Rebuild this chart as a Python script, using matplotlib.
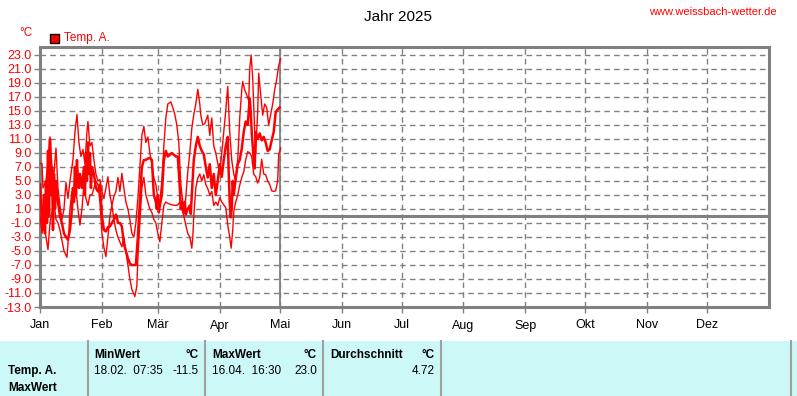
import matplotlib.pyplot as plt
from matplotlib.patches import Rectangle

# Temp. A. - daily highs, means and lows (day of year from 1 Jan)
max_days = [0, 1, 1.5, 3, 4, 5, 6, 7, 8, 9, 10, 11, 12, 13, 14, 15, 16.5, 17.5, 18.5, 19.5,
            20.5, 21.5, 22.5, 23.5, 24, 25, 26, 27, 28, 29, 30, 31, 32, 33, 34, 35, 36, 37, 38, 39,
            40, 41, 42, 43, 44, 45, 46, 47, 48, 49, 50, 51, 52, 53, 54, 55, 56, 57, 58, 59,
            60, 61, 62, 63, 64, 65.5, 66.5, 67.5, 68.5, 69.5, 70.5, 71.5, 72.5, 73.5, 74, 75, 76, 77, 78, 79,
            80, 80.5, 81.5, 82.5, 84, 85, 86, 87, 88, 89, 90, 91, 92, 93, 94, 95, 96, 97, 98, 99,
            100, 101, 101.5, 102.5, 103.5, 104.5, 105, 105.7, 106.5, 107.5, 108, 109, 109.5, 110.5,
            111.5, 112.5, 113.5, 114.5, 115.5, 116.5, 117.5, 118.5, 119.5, 120.5]
max_vals = [7.5, 7.5, 4.0, 5, 8, 11.3, 7, 6, 9.7, 4, 1.5, -0.5, 1, 4.8, 2.5, 5, 8, 12, 14.5, 10.5,
            8.5, 9.5, 7.5, 12, 13.5, 10, 10.5, 8, 6, 5, 5.2, 3.5, 2.5, 4, 5.6, 3, 1.5, 2.8, 3.5, 5.5,
            3.5, 6.1, 4, 2, 1, -0.5, -2.5, -3, -1, 2.5, 7, 11.5, 12.8, 10.5, 11.3, 9, 7.5, 5.5, 4.5, 2.5,
            2, 5, 10, 14, 16, 16.3, 15.5, 14.5, 13, 10.5, 4.5, 2, 1, 4.5, 6.3, 9, 12.5, 14.5, 16, 18.1,
            16, 14.4, 13, 13.2, 14.4, 11.5, 14, 10, 9, 7.5, 6, 9, 12, 15, 18.5, 12, 8, 6, 5, 8,
            14, 18, 19.2, 18, 17.3, 16.5, 21, 23.0, 19.7, 12, 9, 15, 20.4, 17.3,
            14.4, 16, 15.5, 13, 14.5, 16, 18, 19.5, 21.5, 22.5]

mean_days = [0, 0.5, 1, 1.5, 2, 2.5, 3, 3.5, 4, 4.5, 5, 5.5, 6, 6.5, 7, 7.5, 8, 9, 10, 11,
             12, 13, 14, 15, 16, 16.5, 17, 17.5, 18, 18.5, 19, 19.5, 20, 21, 22, 22.5, 23, 23.5, 24, 24.5,
             25, 25.5, 26, 27, 28, 29, 30, 31, 32, 33, 34, 35, 36, 37, 38, 38.5, 39, 40, 41, 42,
             43, 44, 45, 46, 47, 48, 49, 50, 51, 52, 53, 54, 55, 56, 57, 58, 58.5, 59, 59.5, 60,
             61, 62, 63, 64, 66, 68, 69, 70, 70.5, 71, 72, 72.5, 73, 74, 75, 75.5, 76, 77, 78, 79,
             80, 81, 82, 83, 84, 85, 86, 87, 88, 89, 90, 91, 92, 93, 94, 94.5, 95, 95.5, 96, 96.5,
             97, 98, 99, 100, 101, 102, 103, 104, 105, 105.5, 106, 107, 107.5, 108, 109, 110, 111, 112,
             113, 114, 115, 116, 117, 118, 119, 120]
mean_vals = [4.5, 2, -1, -2, 3, -2.5, 5, -1, 9.3, 0, 11, 3, 7, -2, 6, 1, 5, 2, 0, -1,
             -2.5, -3, -3.4, -2, 1, 4, 2, 7, 3, 8, 5, 4, 6, 4, 7, 3, 9, 5, 10.5, 6,
             9, 4, 7, 6, 4, 3.5, 4.5, 0, -2, -2.2, -1.6, -1.5, -1.0, -0.5, 0.2, -0.2, -1, -1, -1.5, -4,
             -5, -6, -6.8, -7, -7, -7, -3, 2, 7, 8, 8, 8.2, 8.3, 8, 3, 2, 1, 3, 0.5, 1.5,
             3, 8, 9.3, 8.5, 9, 8.5, 8.5, 4, 1, 2, 0.5, 2, 0.2, 1, 1.5, 0.3, 3, 8, 10, 11.3,
             10, 9.3, 8.8, 7, 5.5, 7.4, 4, 6, 3, 5, 7.4, 5.6, 8, 10, 11.3, 6, 2, -0.2, 1, 5,
             3, 5.4, 7.4, 8, 9.6, 12, 13.5, 13, 16.8, 15, 12, 8, 6.8, 12, 11, 11.8, 10.8, 11.3,
             10.5, 9.3, 9.5, 10.8, 12, 14.8, 15.2, 15.5]

min_days = [0, 1, 2, 3, 4, 5, 6, 7, 8, 9, 10, 11, 12, 13.5, 14.5, 15, 16, 17, 18, 19,
            20, 21, 22, 23, 24, 25, 26, 27, 28, 29, 30, 31, 32, 33, 34, 35, 36, 37, 38, 39,
            40, 41, 42, 43, 44, 45, 46, 47.5, 48.5, 49, 50, 51, 52, 53, 54, 55, 56, 57, 58, 59,
            60, 61, 62, 63, 64, 66, 68, 69, 70, 71, 72, 73, 74, 75, 76, 76.5, 77, 78, 79, 80,
            81, 82, 83, 84, 85, 86, 87, 88, 89, 90, 91, 92, 93, 94, 95, 95.7, 96.5, 97, 98, 99,
            100, 101, 102, 103, 104, 105, 106, 107, 108, 109, 110, 111, 112, 113, 114, 115, 116, 117,
            118, 119, 119.5, 120.5]
min_vals = [0, -2.5, -1, -3, -4.8, -1, 0.5, 2, -0.5, -1, -2, -3.5, -5, -5.9, -2, 1, 3.5, 2, 3.7, 1,
            -1.3, 1, 4.6, 2.5, 1.5, 3, 3, 4, 5, 4.5, 2, -2.5, -4.5, -5.8, -3, 0, 1.5, -0.5, -2, -3,
            -3.7, -4.4, -3, -5, -7, -9, -10.5, -11.5, -10, -6, -1, 4, 5.5, 3, 2, 1, 0.5, -0.5, -1, -2.5,
            -3.7, -1, 1.5, 2, 1.8, 1.6, 1.5, 1.6, 2, 1, 0, -1.3, -2.5, -3, -4.6, -3, 0, 4, 5.4, 6,
            5, 5.9, 4.5, 3.9, 3, 3.5, 1.5, 2, 1.5, 2.6, 2, 1.6, 1.2, -1.3, -3, -4.6, -2, 0.6, 2, 3,
            4.4, 5.5, 6.3, 8, 9.2, 9, 8.5, 6, 5.6, 4.7, 5.5, 8.1, 6, 5.9, 5, 4.5, 3.6, 3.5,
            3.6, 5, 8.8, 9.7]

month_starts = [0, 31, 59, 90, 120, 151, 181, 212, 243, 273, 304, 334]
month_names = ['Jan', 'Feb', 'Mär', 'Apr', 'Mai', 'Jun', 'Jul', 'Aug', 'Sep', 'Okt', 'Nov', 'Dez']
y_ticks = list(range(-13, 24, 2))

plt.rcParams['font.family'] = ['Liberation Sans', 'DejaVu Sans']
fig = plt.figure(figsize=(7.97, 3.96), dpi=100)
ax = fig.add_axes([40 / 797, 89 / 396, 729 / 797, 260 / 396])

grey = '#808080'
for yv in y_ticks[1:]:
    ax.axhline(yv, color=grey, lw=1, ls=(0, (4, 3)), zorder=1)
for d in month_starts[1:]:
    ax.axvline(d, color=grey, lw=1, ls=(0, (4, 3)), zorder=1)
ax.axhline(0, color=grey, lw=2.2, zorder=2)
ax.axvline(120, color=grey, lw=1.3, zorder=2)

ax.plot(max_days, max_vals, color='#ff0000', lw=1.0, zorder=3)
ax.plot(min_days, min_vals, color='#ff0000', lw=1.0, zorder=3)
ax.plot(mean_days, mean_vals, color='#ff0000', lw=1.8, zorder=4)

ax.set_xlim(0, 365)
ax.set_ylim(-13, 24.14)
ax.set_yticks(y_ticks)
ax.set_yticklabels([f'{v:.1f}' for v in y_ticks], color='#ff0000', fontsize=9)
ax.set_xticks(month_starts)
ax.set_xticklabels(month_names, fontsize=9)
ax.tick_params(axis='both', length=4, width=1, color=grey, pad=2)
ax.tick_params(axis='x', pad=5)
for s in ax.spines.values():
    s.set_color(grey)
    s.set_linewidth(2.2)

fig.text(398 / 797, 1 - 17 / 396, 'Jahr 2025', ha='center', va='center', fontsize=11)
fig.text(777 / 797, 1 - 12 / 396, 'www.weissbach-wetter.de', ha='right', va='center',
         fontsize=8, color='#ff0000')
fig.text(19 / 797, 1 - 33 / 396, '°C', ha='left', va='center', fontsize=8.5, color='#ff0000')
fig.patches.append(Rectangle((50 / 797, 1 - 43 / 396), 9 / 797, 9 / 396, transform=fig.transFigure,
                             facecolor='#ff0000', edgecolor='black', lw=1))
fig.text(64 / 797, 1 - 38 / 396, 'Temp. A.', ha='left', va='center', fontsize=8.5, color='#ff0000')

# statistics table
fig.patches.append(Rectangle((0, 0), 1, 55 / 396, transform=fig.transFigure,
                             facecolor='#ccf8f8', edgecolor='none'))
for xd in [88, 205, 323, 441, 791]:
    fig.add_artist(plt.Line2D([xd / 797, xd / 797], [0, 55 / 396], transform=fig.transFigure,
                              color='#a0a0a0', lw=1.5))

def t(x, y, s, bold=False, ha='left'):
    fig.text(x / 797, 1 - y / 396, s, ha=ha, va='center', fontsize=8.5,
             fontweight='bold' if bold else 'normal')

t(8, 371, 'Temp. A.', True)
t(8, 388, 'MaxWert', True)
t(94, 355, 'MinWert', True)
t(199, 355, '°C', True, 'right')
t(94, 371, '18.02.  07:35')
t(199, 371, '-11.5', ha='right')
t(212, 355, 'MaxWert', True)
t(317, 355, '°C', True, 'right')
t(212, 371, '16.04.  16:30')
t(317, 371, '23.0', ha='right')
t(330, 355, 'Durchschnitt', True)
t(435, 355, '°C', True, 'right')
t(435, 371, '4.72', ha='right')

fig.savefig('out.png', dpi=100)
